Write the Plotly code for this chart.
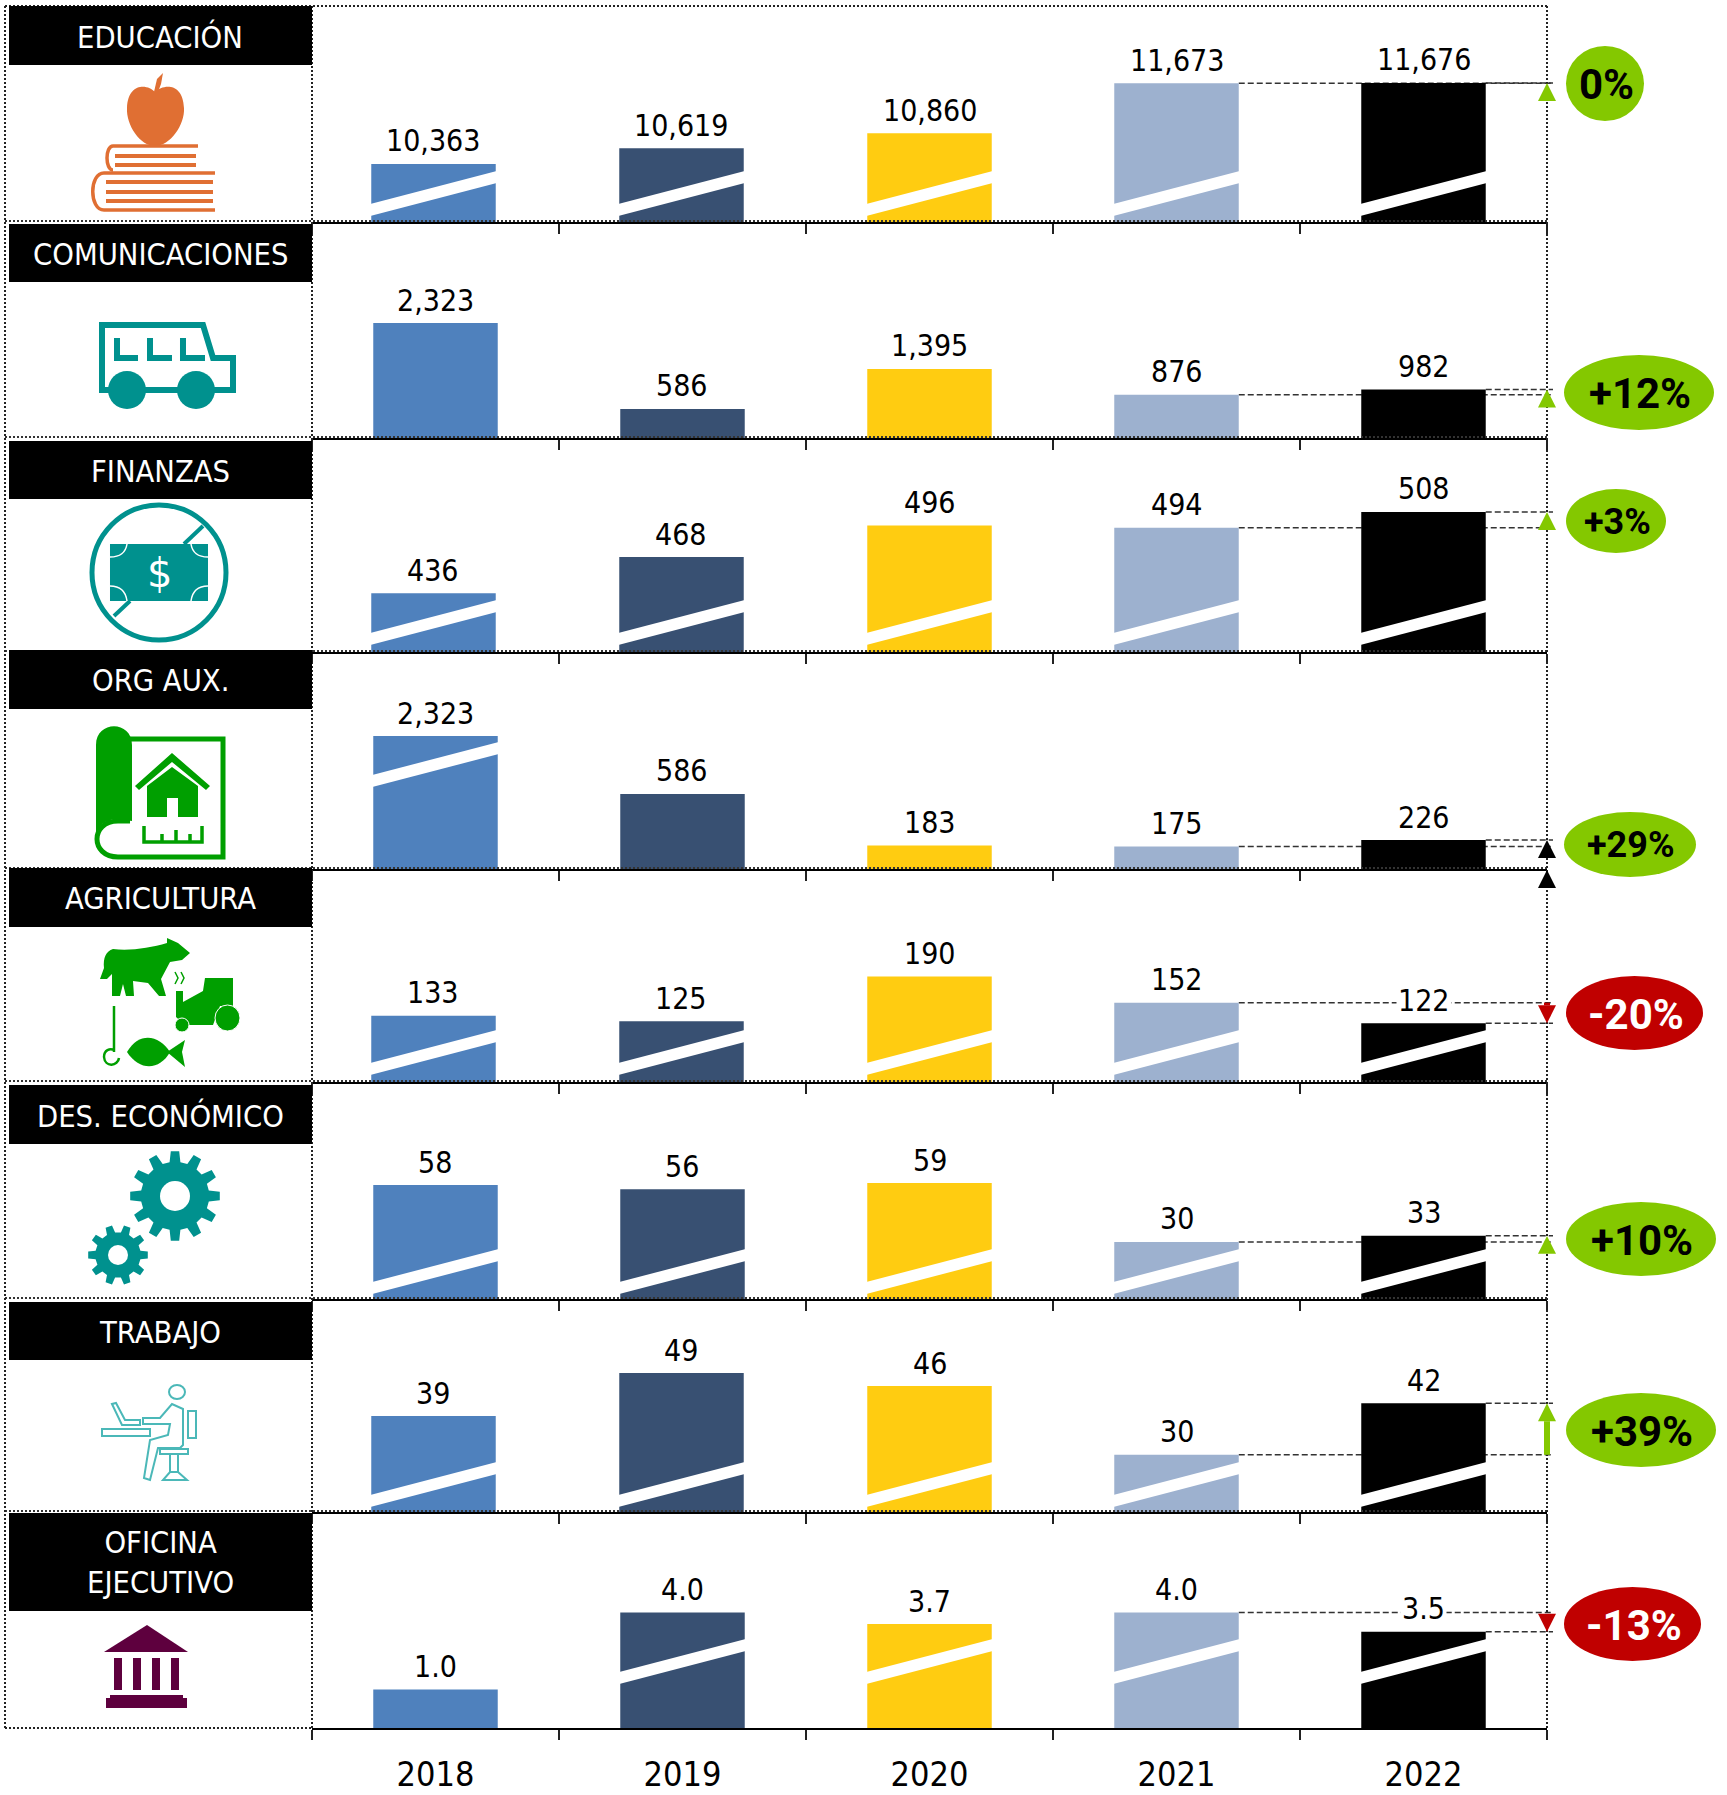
import math, re
import plotly.graph_objects as go

W, H = 1727, 1795
YEARS = ["2018", "2019", "2020", "2021", "2022"]
COLORS = ["#4F81BD", "#385072", "#FFCC11", "#9DB1CF", "#000000"]

# displayed values
EDUCACION = [10363, 10619, 10860, 11673, 11676]
COMUNICACIONES = [2323, 586, 1395, 876, 982]
FINANZAS = [436, 468, 496, 494, 508]
ORG_AUX = [2323, 586, 183, 175, 226]
AGRICULTURA = [133, 125, 190, 152, 122]
DES_ECONOMICO = [58, 56, 59, 30, 33]
TRABAJO = [39, 49, 46, 30, 42]
OFICINA = [1.0, 4.0, 3.7, 4.0, 3.5]

# amount removed from a bar by the axis break (the white slash)
CUT_ORG_AUX = [1284, 0, 0, 0, 0]
CUT_OFICINA = [0, 1.0, 1.0, 1.0, 1.0]
CUT_NONE = [0, 0, 0, 0, 0]

TITLES = ["EDUCACIÓN", "COMUNICACIONES", "FINANZAS", "ORG AUX.", "AGRICULTURA",
          "DES. ECONÓMICO", "TRABAJO", "OFICINA<br>EJECUTIVO"]
PCT = ["0%", "+12%", "+3%", "+29%", "-20%", "+10%", "+39%", "-13%"]

# panel geometry
TOPS = [6, 222, 438, 652, 870, 1082, 1300, 1512]
BASES = [222, 438, 652, 869, 1082, 1299, 1512, 1728]
AX_L, AX_R = 312, 1547
AXIS_MIN = [9423, 0, 384, 0, 37, 1.9, 16.7, 0]
PX_PER_UNIT = [0.0617, 0.0495, 1.13, 0.128, 0.69, 2.03, 4.3, 38.5]
VALUES = [EDUCACION, COMUNICACIONES, FINANZAS, ORG_AUX, AGRICULTURA, DES_ECONOMICO, TRABAJO, OFICINA]
CUTS = [CUT_NONE, CUT_NONE, CUT_NONE, CUT_ORG_AUX, CUT_NONE, CUT_NONE, CUT_NONE, CUT_OFICINA]
SLASHED = [[1, 1, 1, 1, 1], [0, 0, 0, 0, 0], [1, 1, 1, 1, 1], [1, 0, 0, 0, 0],
           [1, 1, 1, 1, 1], [1, 1, 1, 1, 1], [1, 1, 1, 1, 1], [0, 1, 1, 1, 1]]
SLASH_H = [18, 0, 19, 94, 19, 17, 17, 56]
LABEL_FMT = ["{:,.0f}"] * 7 + ["{:.1f}"]
# pixel nudges of the first two bars in the odd panels
DX_ODD = [-2, -1, 0, 0, 0]

TEXT_FONT = "DejaVu Sans Condensed, DejaVu Sans"
BAR_FRAC = 0.504
GREEN, RED = "#84C800", "#C00000"
TEAL, ORANGE, LEAF, MAROON, AQUA = "#00918E", "#E06F33", "#009F00", "#5E003E", "#4BB8B8"

fx = lambda x: x / W
fy = lambda y: 1 - y / H
shapes, annos = [], []


def path_of(d):
    toks = re.findall(r"[MLCQZ]|-?\d+\.?\d*", d)
    out, is_x = [], True
    for t in toks:
        if t in "MLCQZ":
            out.append(t)
            is_x = True
        else:
            out.append(f"{fx(float(t)):.5f}" if is_x else f"{fy(float(t)):.5f}")
            is_x = not is_x
    return " ".join(out)


def P(d, fill=None, line=None, w=0):
    shapes.append(dict(type="path", xref="paper", yref="paper", path=path_of(d),
                       fillcolor=fill or "rgba(0,0,0,0)",
                       line=dict(color=line or "rgba(0,0,0,0)", width=w), layer="above"))


def R(x0, y0, x1, y1, c):
    shapes.append(dict(type="rect", xref="paper", yref="paper", x0=fx(x0), x1=fx(x1), y0=fy(y0), y1=fy(y1),
                       fillcolor=c, line=dict(width=0), layer="above"))


def E(x0, y0, x1, y1, c, line=None, w=0):
    shapes.append(dict(type="circle", xref="paper", yref="paper", x0=fx(x0), x1=fx(x1), y0=fy(y0), y1=fy(y1),
                       fillcolor=c, line=dict(color=line or "rgba(0,0,0,0)", width=w), layer="above"))


def L(x0, y0, x1, y1, c="#222222", w=2, dash="2px,2px"):
    shapes.append(dict(type="line", xref="paper", yref="paper", x0=fx(x0), x1=fx(x1), y0=fy(y0), y1=fy(y1),
                       line=dict(color=c, width=w, dash=dash), layer="above"))


def T(x, y, text, size, color="#000000", weight=400, family=TEXT_FONT):
    annos.append(dict(xref="paper", yref="paper", x=fx(x), y=fy(y), text=text, showarrow=False,
                      xanchor="center", yanchor="middle",
                      font=dict(family=family, size=size, color=color, weight=weight)))


def gear(cx, cy, r, hole, teeth, c):
    pts = []
    for i in range(teeth):
        a = 2 * math.pi * i / teeth
        s = 2 * math.pi / teeth
        ri = r * 0.76
        for da, rr in [(-0.30, ri), (-0.18, r), (0.18, r), (0.30, ri)]:
            pts.append((cx + rr * math.cos(a + da * s), cy + rr * math.sin(a + da * s)))
    P("M " + " L ".join(f"{x:.1f} {y:.1f}" for x, y in pts) + " Z", fill=c)
    E(cx - hole, cy - hole, cx + hole, cy + hole, "#FFFFFF")


def px_of(i, v):
    return BASES[i] - (v - AXIS_MIN[i]) * PX_PER_UNIT[i]


def cat_x(k):
    return AX_L + (AX_R - AX_L) * (k + 0.5) / 5


half_bar = (AX_R - AX_L) / 5 * BAR_FRAC / 2
px_per_cat = (AX_R - AX_L) / 5

fig = go.Figure()
layout = {}
for i in range(8):
    n = "" if i == 0 else str(i + 1)
    xa, ya = "x" + n, "y" + n
    plotted = [v - c for v, c in zip(VALUES[i], CUTS[i])]
    dx = DX_ODD if i % 2 == 0 else [0] * 5
    fig.add_trace(go.Bar(x=YEARS, y=plotted, xaxis=xa, yaxis=ya, marker=dict(color=COLORS, line=dict(width=0)),
                         width=BAR_FRAC, offset=[-BAR_FRAC / 2 + d / px_per_cat for d in dx],
                         showlegend=False, hoverinfo="skip"))
    last = i == 7
    layout["xaxis" + n] = dict(domain=[fx(AX_L), fx(AX_R)], anchor=ya, type="category", categoryorder="array",
                               categoryarray=YEARS, range=[-0.5, 4.5], showline=True, linecolor="#000000", linewidth=2,
                               ticks="outside", tickson="boundaries", ticklen=10, tickcolor="#222222", tickwidth=2,
                               showgrid=False, zeroline=False, showticklabels=last, ticklabelstandoff=15, automargin=False,
                               tickfont=dict(family=TEXT_FONT, size=34, color="#000000"))
    lo = AXIS_MIN[i]
    hi = lo + (BASES[i] - TOPS[i]) / PX_PER_UNIT[i]
    layout["yaxis" + n] = dict(domain=[fy(BASES[i]), fy(TOPS[i])], anchor=xa, range=[lo, hi], visible=False,
                               automargin=False)

    # value labels
    for k, (v, p) in enumerate(zip(VALUES[i], plotted)):
        white = k == 4 and plotted[4] < plotted[3] and i in (4, 7)
        a = dict(xref=xa, yref=ya, x=k, y=p, yanchor="bottom", yshift=3.5, xshift=dx[k] - (0.5 if k < 2 else 0),
                 showarrow=False, xanchor="center",
                 text=LABEL_FMT[i].format(v), font=dict(family=TEXT_FONT, size=30, color="#000000"))
        if white:
            a["bgcolor"] = "#FFFFFF"
        annos.append(a)

    # slashes of the broken bars
    for k in range(5):
        if SLASHED[i][k]:
            x0, x1 = cat_x(k) + dx[k] - half_bar - 1, cat_x(k) + dx[k] + half_bar + 1
            b = BASES[i] - SLASH_H[i]
            P(f"M {x0} {b} L {x1} {b - 33} L {x1} {b - 21} L {x0} {b + 12} Z", fill="#FFFFFF")

    # dashed reference lines
    for k, start in [(3, cat_x(3) + half_bar), (4, cat_x(4) + half_bar)]:
        shapes.append(dict(type="line", xref="paper", yref=ya, x0=fx(start), x1=fx(1553), y0=plotted[k], y1=plotted[k],
                           layer="below", line=dict(color="#333333", width=1.5, dash="6px,3px")))

# frame and separators
for y in BASES[:-1]:
    L(5, y - 1, AX_R, y - 1, "#333333")
L(5, 6, AX_R, 6)
L(5, 1728, AX_L, 1728)
L(5, 6, 5, 1728)
L(AX_L, 6, AX_L, 1728)
L(AX_R, 6, AX_R, 1728)

# panel titles
BOX_TOP = [6, 224, 441, 650, 868, 1085, 1302, 1513]
BOX_BOT = [65, 282, 499, 709, 927, 1144, 1360, 1611]
for i in range(8):
    R(9, BOX_TOP[i], 312, BOX_BOT[i], "#000000")
    annos.append(dict(xref="paper", yref="paper", x=fx(160), y=fy((BOX_TOP[i] + BOX_BOT[i]) / 2 + (0.5 if i == 7 else 1.5)),
                      text=TITLES[i], showarrow=False, font=dict(family=TEXT_FONT, size=30.6, color="#FFFFFF"),
                      xanchor="center", yanchor="middle", align="center"))

# change arrows
TRI = 9
for i in range(8):
    a, b = px_of(i, VALUES[i][3] - CUTS[i][3]), px_of(i, VALUES[i][4] - CUTS[i][4])
    up = b < a
    col = RED if not up else ("#000000" if i == 3 else GREEN)
    d = 18 if up else -18
    apex = b
    P(f"M {AX_R} {apex} L {AX_R - TRI} {apex + d} L {AX_R + TRI} {apex + d} Z", fill=col)
    if abs(a - b) > 20:
        R(AX_R - 3, min(a, apex + d), AX_R + 3, max(a, apex + d), col)
    if i == 3:
        P(f"M {AX_R} {BASES[3] + 1} L {AX_R - TRI} {BASES[3] + 19} L {AX_R + TRI} {BASES[3] + 19} Z", fill=col)

# change ovals
OVAL = [(1566, 46, 1644, 121), (1564, 355, 1714, 430), (1566, 489, 1666, 553), (1564, 812, 1696, 877),
        (1566, 976, 1703, 1050), (1566, 1202, 1716, 1276), (1566, 1393, 1716, 1467), (1564, 1587, 1701, 1661)]
for i, (x0, y0, x1, y1) in enumerate(OVAL):
    neg = PCT[i].startswith("-")
    E(x0, y0, x1, y1, RED if neg else GREEN)
    T((x0 + x1) / 2 + 1, (y0 + y1) / 2 + 1, PCT[i], 36 if i in (2, 3) else 42, "#FFFFFF" if neg else "#000000", 700, "Roboto")

# --- icons ---
# education
P("M155 92 C148 84 128 82 127 108 C126 125 140 146 155 146 C170 146 185 125 184 108 C183 82 163 84 155 92 Z", fill=ORANGE)
P("M154 92 L157 79 L163 73 L161 84 L158 92 Z", fill=ORANGE)
P("M198 146 L113 146 C105 146 105 170 113 170 L113 170", line=ORANGE, w=3.5)
for y in (156, 165):
    R(115, y - 2, 196, y + 2, ORANGE)
P("M215 173 L104 173 C89 173 89 210 104 210 L215 210", line=ORANGE, w=3.5)
for y in (182, 192, 201):
    R(106, y - 2, 213, y + 2, ORANGE)
# bus
P("M102 325 L203 325 L213 358 L233 358 L233 390 L102 390 Z", line=TEAL, w=6)
for a, b in [(117, 138), (150, 172), (183, 205)]:
    P(f"M{a} 338 L{a} 358 L{b} 358", line=TEAL, w=6)
for cx in (127, 196):
    E(cx - 19, 371, cx + 19, 409, TEAL)
# finance
E(92, 505, 226, 640, "#FFFFFF", TEAL, 5)
P("M110 544 L184 544 L208 544 L208 601 L130 601 L110 601 Z", fill=TEAL)
P("M203 526 L184 544", line=TEAL, w=4)
P("M130 601 L114 616", line=TEAL, w=4)
P("M110 557 Q125 557 127 544", line="#FFFFFF", w=1.5)
P("M208 557 Q193 557 191 544", line="#FFFFFF", w=1.5)
P("M110 586 Q125 586 127 601", line="#FFFFFF", w=1.5)
P("M208 586 Q193 586 191 601", line="#FFFFFF", w=1.5)
T(159, 573, "$", 40, "#FFFFFF", 400, "DejaVu Sans")
# org aux
P("M130 739 L223 739 L223 857 L118 857 C90 857 90 821 118 821 L130 821", line=LEAF, w=5)
P("M96 745 C96 720 132 720 132 745 L132 821 L118 819 C105 819 98 826 96 835 Z", fill=LEAF)
P("M135 786 L172 753 L210 786 L206 790 L172 762 L139 790 Z", fill=LEAF)
P("M147 786 L172 767 L198 786 L198 817 L178 817 L178 798 L167 798 L167 817 L147 817 Z", fill=LEAF)
P("M144 826 L144 842 L202 842 L202 826 M162 834 L162 842 M176 830 L176 842 M190 834 L190 842", line=LEAF, w=3.5)
# agriculture
P("M104 968 C103 958 106 951 113 949 C130 951 150 948 167 943 L167 938 L178 943 L190 953 L182 960 L170 962 L161 979 L166 996 L159 996 "
  "L148 983 L133 981 L134 996 L126 996 L123 984 L120 996 L112 996 L112 974 L107 979 L100 979 Z", fill=LEAF)
P("M205 978 L233 978 L233 1006 L220 1006 L213 1025 L185 1025 L176 1017 L176 991 L183 991 L183 1002 L203 991 Z", fill=LEAF)
E(215, 1005, 240, 1031, LEAF, "#FFFFFF", 1)
E(175, 1018, 189, 1032, LEAF, "#FFFFFF", 1)
P("M175 972 L178 978 L175 984 M181 972 L184 978 L181 984", line=LEAF, w=1.5)
P("M127 1052 C140 1030 160 1036 170 1052 C160 1070 140 1072 127 1052 Z", fill=LEAF)
P("M167 1052 L185 1040 L182 1052 L185 1067 Z", fill=LEAF)
P("M114 1006 L114 1052 M119 1058 C118 1066 105 1068 104 1057 C104 1050 110 1048 114 1050", line=LEAF, w=2.5)
# development
gear(175, 1196, 45, 15, 12, TEAL)
gear(118, 1255, 30, 10, 10, TEAL)
# work
E(169, 1385, 185, 1399, "#FFFFFF", AQUA, 2)
P("M102 1429 L150 1429 L150 1436 L102 1436 Z", line=AQUA, w=2)
P("M112 1404 L122 1425 L140 1425 L140 1420 L125 1420 L116 1403 Z", line=AQUA, w=2)
P("M143 1418 L160 1418 L172 1404 L183 1409 L183 1445 L180 1448 L158 1448 L150 1480 L144 1478 L150 1440 L168 1435 L170 1424 L143 1424 Z", line=AQUA, w=2)
P("M188 1411 L196 1411 L196 1438 L188 1438 Z", line=AQUA, w=2)
P("M160 1449 L188 1449 L188 1454 L160 1454 Z", line=AQUA, w=2)
P("M170 1454 L170 1472 M178 1454 L178 1472", line=AQUA, w=2)
P("M163 1480 L187 1480 L178 1472 L170 1472 Z", line=AQUA, w=2)
# office
P("M147 1625 L188 1652 L104 1652 Z", fill=MAROON)
for a, b in [(114, 122), (133, 141), (152, 160), (171, 179)]:
    R(a, 1658, b, 1690, MAROON)
R(110, 1695, 183, 1700, MAROON)
R(106, 1698, 187, 1708, MAROON)

layout.update(width=W, height=H, autosize=False, margin=dict(l=0, r=0, t=0, b=0, autoexpand=False),
              paper_bgcolor="#FFFFFF", plot_bgcolor="rgba(0,0,0,0)", shapes=shapes, annotations=annos, showlegend=False)
fig.update_layout(**layout)
fig.write_html("out.html", config=dict(displayModeBar=False),
               post_script="document.body.style.margin='0';document.documentElement.style.overflow='hidden';")
